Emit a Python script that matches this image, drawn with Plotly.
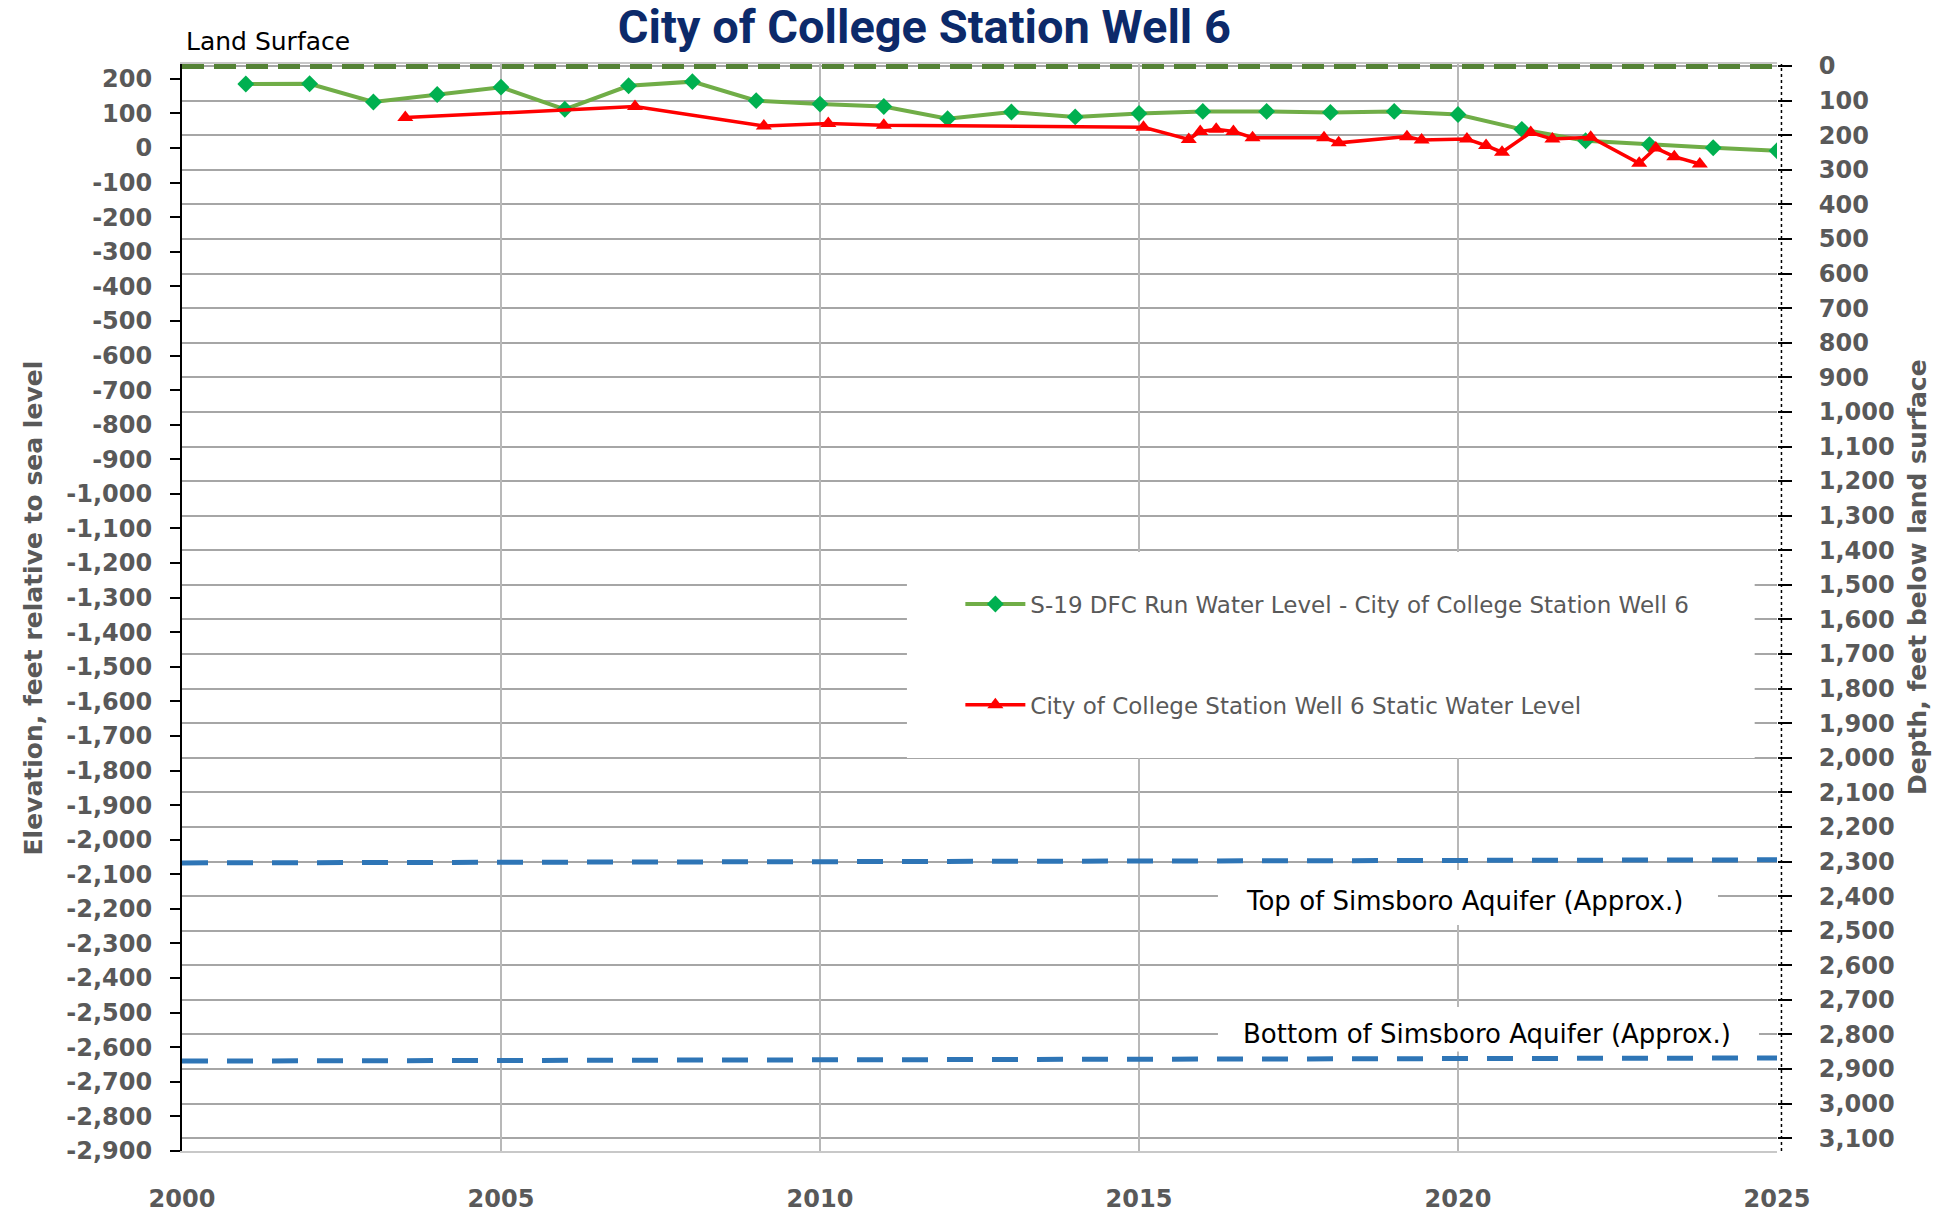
import plotly.graph_objects as go

# ---------------- data ----------------
land_surface_elev = 237          # ft above sea level (depth 0)
left_axis_min = -2900            # bottom of elevation axis
x_range = [2000, 2025]

dfc_years = list(range(2001, 2026))
dfc_levels = [185, 186, 133, 155, 176, 112, 180, 192, 137, 127, 120, 85, 104,
              90, 100, 106, 106, 103, 106, 97, 54, 21, 10, 1, -8]

static_dates = [2003.5, 2007.1, 2009.12, 2010.13, 2011.0, 2015.07, 2015.78, 2015.96,
                2016.21, 2016.48, 2016.78, 2017.9, 2018.13, 2019.2, 2019.43, 2020.14,
                2020.44, 2020.69, 2021.14, 2021.48, 2022.08, 2022.84, 2023.1, 2023.39,
                2023.79]
static_levels = [88, 120, 64, 71, 66, 60, 25, 48, 54, 48, 30, 30, 15, 33, 23, 26,
                 7, -12, 45, 26, 31, -44, 0, -25, -46]

simsboro_x = [2000, 2025]
simsboro_top = [-2067, -2058]
simsboro_bottom = [-2640, -2631]

x_ticks = [2000, 2005, 2010, 2015, 2020, 2025]
elev_ticks = list(range(200, -3000, -100))
elev_labels = [f"{v:,}" for v in elev_ticks]
depth_ticks = list(range(0, 3200, 100))
depth_labels = [f"{v:,}" for v in depth_ticks]

# ---------------- styles ----------------
GRAY = "#595959"
TICKFONT = dict(family="DejaVu Sans", size=24, color=GRAY, weight="bold")
top_pad = 6   # small headroom so the land-surface line is not clipped

fig = go.Figure()

# land surface
fig.add_trace(go.Scatter(
    x=x_range, y=[land_surface_elev, land_surface_elev], mode="lines",
    line=dict(color="#548235", width=6, dash="22px,10px"),
    showlegend=False, hoverinfo="skip"))

# Simsboro top / bottom
fig.add_trace(go.Scatter(
    x=simsboro_x, y=simsboro_top, mode="lines",
    line=dict(color="#2e75b6", width=5, dash="26px,19px"),
    showlegend=False, hoverinfo="skip"))
fig.add_trace(go.Scatter(
    x=simsboro_x, y=simsboro_bottom, mode="lines",
    line=dict(color="#2e75b6", width=5, dash="26px,19px"),
    showlegend=False, hoverinfo="skip"))

# series
fig.add_trace(go.Scatter(
    x=dfc_years, y=dfc_levels, mode="lines+markers",
    name="S-19 DFC Run Water Level - City of College Station Well 6",
    legendgroup="a",
    line=dict(color="#70ad47", width=4),
    marker=dict(symbol="diamond", size=13, color="#00b050")))
fig.add_trace(go.Scatter(
    x=static_dates, y=static_levels, mode="lines+markers",
    name="City of College Station Well 6 Static Water Level",
    legendgroup="b",
    line=dict(color="#ff0000", width=3.5),
    marker=dict(symbol="triangle-up", size=14, color="#ff0000")))

# dummy trace to activate right axis
depth_max = land_surface_elev - left_axis_min
fig.add_trace(go.Scatter(x=[x_range[0]], y=[0], yaxis="y2", mode="markers",
                         marker=dict(opacity=0), showlegend=False, hoverinfo="skip"))

fig.update_layout(
    width=1946, height=1218, autosize=False,
    margin=dict(l=182, r=169, t=64, b=67, autoexpand=False),
    plot_bgcolor="white", paper_bgcolor="white",
    title=dict(text="City of College Station Well 6", x=0.475, xanchor="center",
               y=0.978, yanchor="middle",
               font=dict(family="Roboto", size=47, color="#0c2a6a", weight="bold")),
    xaxis=dict(range=x_range, tickvals=x_ticks, ticktext=[str(v) for v in x_ticks],
               automargin=False,
               showgrid=True, gridcolor="#b8b8b8", gridwidth=1.5,
               showline=True, linecolor="#c8c8c8", linewidth=2, mirror=True,
               ticks="", ticklabelstandoff=25, tickfont=TICKFONT, zeroline=False),
    yaxis=dict(range=[left_axis_min, land_surface_elev + top_pad], tickvals=elev_ticks,
               ticktext=elev_labels, showgrid=False, zeroline=False, automargin=False,
               minor=dict(tick0=land_surface_elev, dtick=100, showgrid=True,
                          gridcolor="#a6a6a6", gridwidth=2, ticks=""),
               showline=True, linecolor="black", linewidth=2,
               ticks="outside", ticklen=10, tickwidth=2, tickcolor="black",
               ticklabelstandoff=13, tickfont=TICKFONT),
    yaxis2=dict(range=[depth_max, -top_pad], overlaying="y", side="right",
                tickvals=depth_ticks, ticktext=depth_labels, automargin=False,
                showgrid=False, zeroline=False,
                ticks="outside", ticklen=14, tickwidth=1.5, tickcolor="black",
                ticklabelstandoff=22, tickfont=TICKFONT, showline=False),
    legend=dict(x=0.488, y=0.523, xanchor="left", yanchor="top",
                bgcolor="rgba(0,0,0,0)", itemwidth=60, tracegroupgap=68,
                font=dict(family="DejaVu Sans", size=23, color=GRAY)),
    hovermode=False,
)

# white boxes behind legend and labels (they do not overlap any data line)
for (x0, x1, y0, y1) in [(0.4545, 0.986, 0.3615, 0.551),
                         (0.6495, 0.963, 0.208, 0.2585),
                         (0.6495, 0.9887, 0.0915, 0.1325)]:
    fig.add_shape(type="rect", xref="paper", yref="paper",
                  x0=x0, x1=x1, y0=y0, y1=y1,
                  fillcolor="white", line=dict(width=0), layer="above")

# dotted right axis line
fig.add_shape(type="line", xref="paper", yref="paper", x0=1.0028, x1=1.0028, y0=0, y1=1,
              line=dict(color="black", width=1.5, dash="dot"), layer="above")

ann_font = dict(family="DejaVu Sans", size=26, color="black")
fig.add_annotation(text="Top of Simsboro Aquifer (Approx.)", xref="paper", yref="paper",
                   x=0.804, y=0.230, showarrow=False, xanchor="center", yanchor="middle",
                   font=ann_font)
fig.add_annotation(text="Bottom of Simsboro Aquifer (Approx.)", xref="paper", yref="paper",
                   x=0.818, y=0.1076, showarrow=False, xanchor="center", yanchor="middle",
                   font=ann_font)
fig.add_annotation(text="Land Surface", xref="paper", yref="paper", x=0.001, y=1.021,
                   showarrow=False, xanchor="left", yanchor="middle",
                   font=dict(family="DejaVu Sans", size=25, color="black"))

title_font = dict(family="DejaVu Sans", size=25, color=GRAY, weight="bold")
fig.add_annotation(text="Elevation, feet relative to sea level", xref="paper", yref="paper",
                   x=-0.0928, y=0.5, textangle=-90, showarrow=False,
                   xanchor="center", yanchor="middle", font=title_font)
fig.add_annotation(text="Depth, feet below land surface", xref="paper", yref="paper",
                   x=1.0878, y=0.528, textangle=-90, showarrow=False,
                   xanchor="center", yanchor="middle", font=title_font)

fig.write_html("out.html", post_script="document.body.style.margin='0';",
               config={"displayModeBar": False})
